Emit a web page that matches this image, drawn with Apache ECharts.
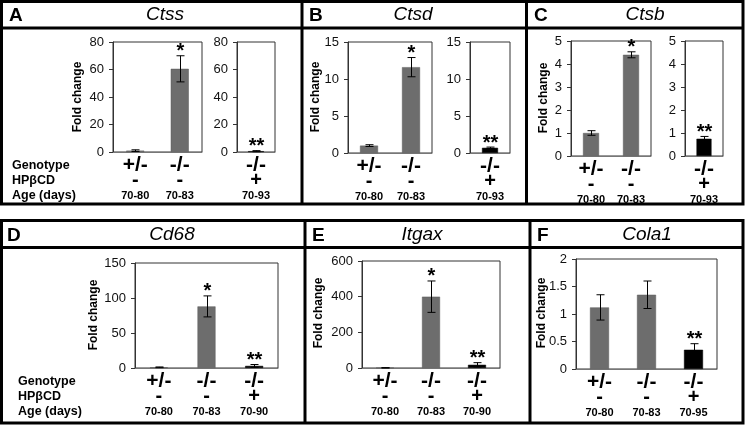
<!DOCTYPE html>
<html><head><meta charset="utf-8">
<script src="https://cdn.jsdelivr.net/npm/echarts@6/dist/echarts.min.js"></script>
<style>html,body{margin:0;padding:0;background:#fff}#c{width:745px;height:426px}</style>
</head><body><div id="c"></div>
<script>
const FONT = '"Liberation Sans", Arial, Helvetica, sans-serif';

// ---- shared category rows ----
const genotype = ['+/-', '-/-', '-/-'];
const hpbcd = ['-', '-', '+'];
const rowLabels = ['Genotype', 'HP\u03B2CD', 'Age (days)'];

// ---- Panel A: Ctss ----
const ctssAge = ['70-80', '70-83', '70-93'];
const ctssValue = [1.0, 60.5, 0.6];
const ctssError = [0.6, 9.5, 0.4];
const ctssSig = ['', '*', '**'];
const ctssTicks = [0, 20, 40, 60, 80];

// ---- Panel B: Ctsd ----
const ctsdAge = ['70-80', '70-83', '70-93'];
const ctsdValue = [1.0, 11.6, 0.7];
const ctsdError = [0.12, 1.3, 0.1];
const ctsdSig = ['', '*', '**'];
const ctsdTicks = [0, 5, 10, 15];

// ---- Panel C: Ctsb ----
const ctsbAge = ['70-80', '70-83', '70-93'];
const ctsbValue = [1.0, 4.4, 0.75];
const ctsbError = [0.1, 0.13, 0.1];
const ctsbSig = ['', '*', '**'];
const ctsbTicks = [0, 1, 2, 3, 4, 5];

// ---- Panel D: Cd68 ----
const cd68Age = ['70-80', '70-83', '70-90'];
const cd68Value = [1.0, 88, 3];
const cd68Error = [0.5, 15, 2];
const cd68Sig = ['', '*', '**'];
const cd68Ticks = [0, 50, 100, 150];

// ---- Panel E: Itgax ----
const itgaxAge = ['70-80', '70-83', '70-90'];
const itgaxValue = [1, 400, 18];
const itgaxError = [1, 88, 12];
const itgaxSig = ['', '*', '**'];
const itgaxTicks = [0, 200, 400, 600];

// ---- Panel F: Cola1 ----
const cola1Age = ['70-80', '70-83', '70-95'];
const cola1Value = [1.12, 1.35, 0.35];
const cola1Error = [0.23, 0.25, 0.11];
const cola1Sig = ['', '', '**'];
const cola1Ticks = [0, 0.5, 1, 1.5, 2];

const grids = [], xAxes = [], yAxes = [], series = [], graphics = [];

function addPlot(rect, idx, age, values, errors, sigs, ticks, barWidth) {
  const gi = grids.length;
  grids.push({left: rect[0], top: rect[1], width: rect[2], height: rect[3],
    show: true, borderColor: '#333', borderWidth: 1, backgroundColor: '#fff'});
  xAxes.push({type: 'category', gridIndex: gi, data: idx.map(i => String(i)),
    axisLine: {lineStyle: {color: '#777', width: 1}}, axisTick: {show: false},
    axisLabel: {interval: 0, margin: 6, color: '#000', fontFamily: FONT,
      formatter: v => { const i = +v; return '{g|' + genotype[i] + '}\n{h|' + hpbcd[i] + '}\n{a|' + age[i] + '}'; },
      rich: {
        g: {fontSize: 21, fontWeight: 'bold', lineHeight: 15, fontFamily: FONT, color: '#000'},
        h: {fontSize: 20, fontWeight: 'bold', lineHeight: 15, fontFamily: FONT, color: '#000'},
        a: {fontSize: 11, fontWeight: 'bold', lineHeight: 15, fontFamily: FONT, color: '#000'}
      }}});
  yAxes.push({type: 'value', gridIndex: gi, min: ticks[0], max: ticks[ticks.length - 1],
    interval: ticks[1] - ticks[0], splitLine: {show: false},
    axisLine: {show: true, lineStyle: {color: '#333', width: 1}},
    axisTick: {show: true, length: 4, lineStyle: {color: '#333'}},
    axisLabel: {margin: 9, fontSize: 13, color: '#111', fontFamily: FONT,
      formatter: v => String(v)}});
  series.push({type: 'bar', xAxisIndex: gi, yAxisIndex: gi, barWidth: barWidth, silent: true,
    data: idx.map(i => ({value: values[i], itemStyle: {color: hpbcd[i] === '+' ? '#000' : '#6d6d6d',
      borderColor: hpbcd[i] === '+' ? '#000' : '#5a5a5a', borderWidth: 0.5}}))});
  series.push({type: 'custom', xAxisIndex: gi, yAxisIndex: gi, clip: false, silent: true, z: 5,
    data: idx.map((i, k) => [k, values[i], errors[i]]),
    renderItem: (params, api) => {
      const k = api.value(0), v = api.value(1), e = api.value(2);
      const top = api.coord([k, v + e]), bot = api.coord([k, Math.max(0, v - e)]);
      const x = Math.round(top[0]) + 0.5, cw = 4;
      const st = {stroke: '#000', lineWidth: 1};
      const ch = [
        {type: 'line', shape: {x1: x, y1: top[1], x2: x, y2: bot[1]}, style: st},
        {type: 'line', shape: {x1: x - cw, y1: top[1], x2: x + cw, y2: top[1]}, style: st},
        {type: 'line', shape: {x1: x - cw, y1: bot[1], x2: x + cw, y2: bot[1]}, style: st}
      ];
      const s = sigs[idx[params.dataIndex]];
      if (s) ch.push({type: 'text', style: {text: s, x: x, y: top[1] - 4, align: 'center',
        verticalAlign: 'middle', font: 'bold 20px ' + FONT, fill: '#000'}});
      return {type: 'group', children: ch};
    }});
}

// top row
addPlot([113, 42, 89, 110], [0, 1], ctssAge, ctssValue, ctssError, ctssSig, ctssTicks, 18);
addPlot([237, 42, 38, 110], [2], ctssAge, ctssValue, ctssError, ctssSig, ctssTicks, 16);
addPlot([348, 42, 84, 111], [0, 1], ctsdAge, ctsdValue, ctsdError, ctsdSig, ctsdTicks, 18);
addPlot([470, 42, 40, 111], [2], ctsdAge, ctsdValue, ctsdError, ctsdSig, ctsdTicks, 16);
addPlot([571, 41, 80, 115], [0, 1], ctsbAge, ctsbValue, ctsbError, ctsbSig, ctsbTicks, 16);
addPlot([685, 41, 38, 115], [2], ctsbAge, ctsbValue, ctsbError, ctsbSig, ctsbTicks, 15);
// bottom row
addPlot([135, 263, 143, 105], [0, 1, 2], cd68Age, cd68Value, cd68Error, cd68Sig, cd68Ticks, 18);
addPlot([362, 261, 138, 107], [0, 1, 2], itgaxAge, itgaxValue, itgaxError, itgaxSig, itgaxTicks, 18);
addPlot([576, 259, 141, 110], [0, 1, 2], cola1Age, cola1Value, cola1Error, cola1Sig, cola1Ticks, 19);

// frames
const frameStyle = {fill: 'none', stroke: '#000', lineWidth: 3};
function rect(x, y, w, h) { graphics.push({type: 'rect', z: 100, shape: {x, y, width: w, height: h}, style: frameStyle}); }
function line(x1, y1, x2, y2) { graphics.push({type: 'line', z: 100, shape: {x1, y1, x2, y2}, style: {stroke: '#000', lineWidth: 3}}); }
rect(1.5, 1.5, 741.5, 202.5);
line(1.5, 28, 743, 28);
line(302, 1.5, 302, 204);
line(526.5, 1.5, 526.5, 204);
rect(1.5, 220.5, 741.5, 202.5);
line(1.5, 247.5, 743, 247.5);
line(305, 220.5, 305, 423);
line(530, 220.5, 530, 423);

function txt(s, x, y, font, align, rot) {
  graphics.push({type: 'text', z: 101, x: x, y: y, rotation: rot || 0,
    style: {text: s, x: 0, y: 0, font: font, fill: '#000', align: align || 'left', verticalAlign: 'middle'}});
}
const letterFont = 'bold 19px ' + FONT, titleFont = 'italic 19px ' + FONT;
txt('A', 9, 15.5, letterFont); txt('Ctss', 165, 15, titleFont, 'center');
txt('B', 309, 15.5, letterFont); txt('Ctsd', 413, 15, titleFont, 'center');
txt('C', 534, 15.5, letterFont); txt('Ctsb', 645, 15, titleFont, 'center');
txt('D', 7, 235.5, letterFont); txt('Cd68', 172, 235, titleFont, 'center');
txt('E', 312, 235.5, letterFont); txt('Itgax', 422, 235, titleFont, 'center');
txt('F', 537, 235.5, letterFont); txt('Cola1', 647, 235, titleFont, 'center');

const fc = 'bold 12px ' + FONT;
txt('Fold change', 78, 97, fc, 'center', Math.PI / 2);
txt('Fold change', 315.5, 97, fc, 'center', Math.PI / 2);
txt('Fold change', 543.5, 98, fc, 'center', Math.PI / 2);
txt('Fold change', 93.5, 315, fc, 'center', Math.PI / 2);
txt('Fold change', 319, 313, fc, 'center', Math.PI / 2);
txt('Fold change', 542, 313, fc, 'center', Math.PI / 2);

const rl = 'bold 12.5px ' + FONT;
[165.5, 180.5, 196].forEach((y, i) => txt(rowLabels[i], 12, y, rl));
[382, 397, 412].forEach((y, i) => txt(rowLabels[i], 18, y, rl));

const chart = echarts.init(document.getElementById('c'));
chart.setOption({animation: false, backgroundColor: '#fff', grid: grids, xAxis: xAxes, yAxis: yAxes,
  series: series, graphic: graphics});
</script></body></html>
